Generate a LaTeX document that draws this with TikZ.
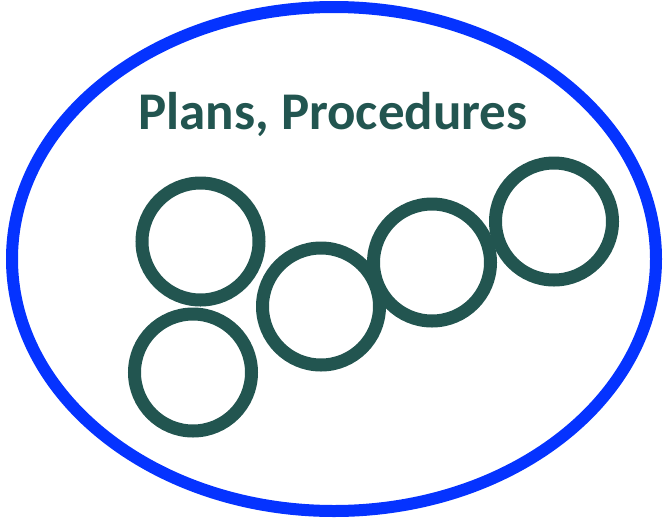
\documentclass[tikz,border=0pt]{standalone}
\usepackage{fontspec}
\setmainfont{Carlito}
\definecolor{ringblue}{RGB}{5,51,255}
\definecolor{tealdark}{RGB}{34,85,80}
\begin{document}
\begin{tikzpicture}[x=1pt,y=-1pt,
  ring/.style={draw=tealdark,circle,line width=13pt,minimum size=117pt,inner sep=0pt},
  outer/.style={draw=ringblue,line width=12pt}]
\useasboundingbox (0,0) rectangle (667,520);
\draw[outer] (334,259) ellipse [x radius=322pt, y radius=252pt];
\node[anchor=base,text=tealdark,font=\fontsize{53}{58}\selectfont\bfseries,inner sep=0pt] (title) at (333,129) {Plans, Procedures};
\node[ring] (c1) at (200.5,241.5) {};
\node[ring] (c2) at (193,372.5) {};
\node[ring] (c3) at (321,306.5) {};
\node[ring] (c4) at (432,262.5) {};
\node[ring] (c5) at (554,221.5) {};
\end{tikzpicture}
\end{document}
